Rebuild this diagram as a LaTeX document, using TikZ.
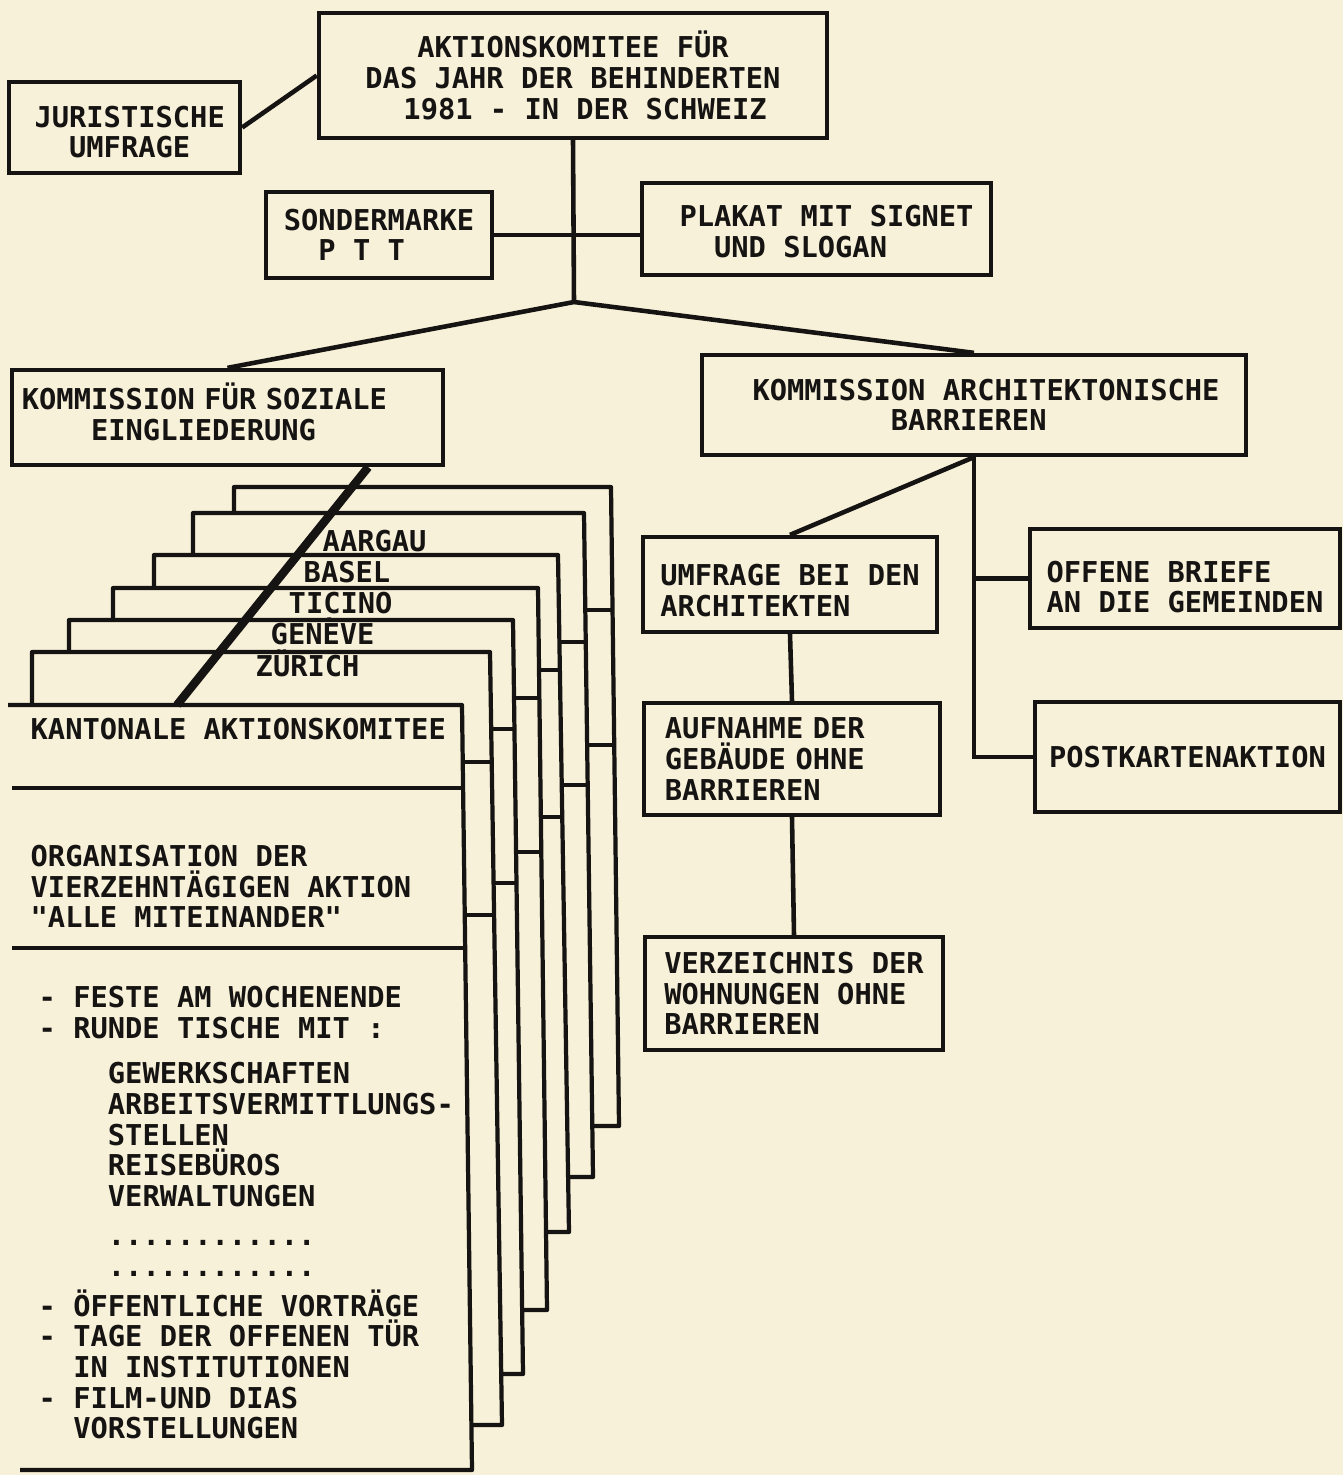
\documentclass[tikz,border=0pt]{standalone}
\usepackage{fontspec}
\usepackage{tikz}
\usetikzlibrary{calc}
\newfontfamily\typewr{DejaVu Sans Mono}
\definecolor{paper}{RGB}{248,241,218}
\definecolor{ink}{RGB}{22,20,18}
\newlength\chw
\setlength\chw{4.92pt}
\newcommand{\sk}[1]{\hspace*{#1\chw}}
\newcommand{\up}[1]{\rule{0pt}{#1}}
\newcommand{\dn}[1]{\rule[-#1]{0pt}{0pt}}
\newcommand{\monospacing}{\spaceskip=\chw\relax\xspaceskip=\chw\relax}
\tikzset{box/.style={draw=ink, line width=1.2pt, inner xsep=0pt, inner ysep=0pt}}
\tikzset{link/.style={draw=ink, line width=1.3pt}}
\tikzset{card/.style={draw=ink, line width=1.2pt, line join=round}}

\begin{document}
\begin{tikzpicture}[x=0.01cm, y=-0.01cm]
	% Default action for each node
	\tikzstyle{every node}=[inner sep=0pt, text=ink, font=\typewr\bfseries\fontsize{8.17}{8.7}\selectfont\monospacing];

	\useasboundingbox (0,0) rectangle (1343,1475);
	\fill[paper] (0,0) rectangle (1343,1475);

	% Head of the chart
	\node[box, align=center, minimum width=5.08cm, minimum height=1.25cm] (top) at (573,75.5) {AKTIONSKOMITEE FÜR\\DAS JAHR DER BEHINDERTEN\\\sk{1.4}1981 - IN DER SCHWEIZ};
	\node[box, align=center, minimum width=2.31cm, minimum height=0.91cm] (juristisch) at (124.5,127.5) {\up{8.6pt}\sk{0.6}JURISTISCHE\\\sk{0.6}UMFRAGE};
	\node[box, align=left, minimum width=2.26cm, minimum height=0.86cm] (sondermarke) at (379,235) {SONDERMARKE\\\sk{2}P T T};
	\node[box, align=left, minimum width=3.49cm, minimum height=0.92cm] (plakat) at (816.5,229) {\up{7.6pt}\sk{1.16}PLAKAT MIT SIGNET\\\sk{3.16}UND SLOGAN};
	\coordinate (hub) at (574,302);

	% Commissions
	\node[box, align=left, text width=4.11cm, inner xsep=0.1cm, minimum height=0.95cm] (sozial) at (227.5,417.5) {KOMMISSION FÜR SOZIALE\\\sk{4}EINGLIEDERUNG\dn{3.4pt}};
	\node[box, align=left, minimum width=5.44cm, minimum height=1.0cm] (architektur) at (974,405) {\sk{1.39}KOMMISSION ARCHITEKTONISCHE\\\sk{9.39}BARRIEREN};

	% Right branch
	\node[box, align=left, minimum width=2.94cm, minimum height=0.95cm] (umfrage) at (790,584.5) {\up{9.4pt}UMFRAGE BEI DEN\\ARCHITEKTEN};
	\node[box, align=left, text width=2.54cm, inner xsep=0.21cm, minimum height=1.12cm] (aufnahme) at (792,759) {AUFNAHME DER\\GEBÄUDE OHNE\\BARRIEREN};
	\node[box, align=left, minimum width=2.98cm, minimum height=1.13cm] (verzeichnis) at (794,993.5) {VERZEICHNIS DER\\WOHNUNGEN OHNE\\BARRIEREN};
	\node[box, align=left, minimum width=3.10cm, minimum height=0.99cm] (briefe) at (1185,578.5) {\up{11pt}OFFENE BRIEFE\\AN DIE GEMEINDEN};
	\node[box, minimum width=3.05cm, minimum height=1.10cm] (postkarten) at (1187.5,757) {POSTKARTENAKTION};

	% Links from the top
	\draw[link] (juristisch.east) -- (top.west);
	\draw[link] (top.south) -- (hub);
	\draw[link] (sondermarke.east) -- (sondermarke.east -| plakat.west);
	\draw[link] (hub) -- (sozial.north);
	\draw[link] (hub) -- (architektur.north);

	% Links below the architecture commission
	\draw[link] (architektur.south) -- (umfrage.north);
	\draw[link] (architektur.south) |- (postkarten.west);
	\draw[link] (architektur.south |- briefe.west) -- (briefe.west);
	\draw[link] (umfrage.south) -- (aufnahme.north);
	\draw[link] (aufnahme.south) -- (verzeichnis.north);

	% Stack of cantonal cards, back to front
	\foreach \lx/\ty/\rtx/\rbx/\by/\sya/\syb in {234/487/611/619/1126/610/745, 193/513/584/593/1177/642/785, 154/555/558/569/1232/670/817, 113/588/538/547/1310/698/852, 69/620/513/523/1374/729/883, 32/652/490/502/1425/762/915}{
		\pgfmathsetmacro\xsa{\rtx+(\rbx-\rtx)*(\sya-\ty)/(\by-\ty)}
		\pgfmathsetmacro\xsb{\rtx+(\rbx-\rtx)*(\syb-\ty)/(\by-\ty)}
		\fill[paper] (\lx,\by) -- (\lx,\ty) -- (\rtx,\ty) -- (\rbx,\by) -- cycle;
		\draw[card] (\lx,\by) -- (\lx,\ty) -- (\rtx,\ty) -- (\rbx,\by) -- cycle;
		\draw[card] (\lx,\sya) -- (\xsa,\sya);
		\draw[card] (\lx,\syb) -- (\xsb,\syb);
	}

	% Front card
	\fill[paper] (0,705) -- (462,705) -- (472,1470) -- (0,1470) -- cycle;
	\draw[card] (8,705) -- (462,705) -- (472,1470) -- (20,1470);
	\draw[card] (12,788) -- (463.1,788);
	\draw[card] (12,948) -- (465.2,948);
	\coordinate (kantonaltop) at (177,705);

	% Canton names
	\foreach \lx/\ly/\canton in {322/541/AARGAU, 303/572/BASEL, 288/603/TICINO, 270/634/GENÈVE, 255/666/ZÜRICH}
		\node[anchor=base west] (\canton) at (\lx,\ly+10.5) {\canton};

	\node[anchor=base west] (kantonal) at (30,739) {KANTONALE AKTIONSKOMITEE};
	\node[anchor=north west, align=left] (organisation) at (30,844.5) {ORGANISATION DER\\VIERZEHNTÄGIGEN AKTION\\"ALLE MITEINANDER"};
	\node[anchor=north west, align=left] (aktionen) at (38,985.5) {- FESTE AM WOCHENENDE\\- RUNDE TISCHE MIT :\\[4.3pt]
		\sk{4}GEWERKSCHAFTEN\\\sk{4}ARBEITSVERMITTLUNGS-\\\sk{4}STELLEN\\\sk{4}REISEBÜROS\\\sk{4}VERWALTUNGEN\\[2.6pt]
		\sk{4}............\\\sk{4}............\\[2.6pt]
		- ÖFFENTLICHE VORTRÄGE\\- TAGE DER OFFENEN TÜR\\\sk{2}IN INSTITUTIONEN\\- FILM-UND DIAS\\\sk{2}VORSTELLUNGEN};

	% Link into the cards
	\draw[draw=ink, line width=2.4pt] ([xshift=-0.77cm]sozial.south east) -- (kantonaltop);
\end{tikzpicture}
\end{document}
